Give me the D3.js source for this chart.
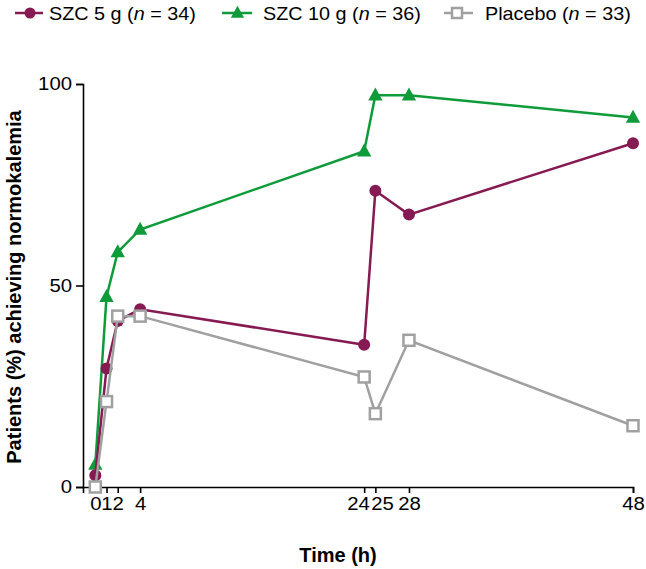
<!DOCTYPE html>
<html>
<head>
<meta charset="utf-8">
<script src="https://cdn.jsdelivr.net/npm/d3@7"></script>
<style>
body { margin: 0; background: #fff; }
text { font-family: "Liberation Sans", Arial, sans-serif; }
</style>
</head>
<body>
<script>
var hours = [0, 1, 2, 4, 24, 25, 28, 48];
var szc5 = [2.9, 29.4, 41.2, 44.1, 35.3, 73.5, 67.6, 85.3];
var szc10 = [5.6, 47.2, 58.3, 63.9, 83.3, 97.2, 97.2, 91.7];
var placebo = [0, 21.2, 42.4, 42.4, 27.3, 18.2, 36.4, 15.2];
var yTicks = [0, 50, 100];

var width = 646, height = 569;
var stretch = "scale(1.1,1)";

var svg = d3.select("body").append("svg")
    .attr("width", width)
    .attr("height", height);

var x = d3.scaleLinear().domain([-1.1, 48]).range([83, 633]);
var y = d3.scaleLinear().domain([0, 100]).range([487, 84]);

var xAxis = d3.axisBottom(x).tickValues(hours).tickSizeOuter(0).tickSize(6).tickPadding(4);
var yAxis = d3.axisLeft(y).tickValues(yTicks).tickSizeOuter(0).tickSize(7).tickPadding(3);

var gx = svg.append("g").attr("transform", "translate(0,487)").call(xAxis);
var gy = svg.append("g").attr("transform", "translate(83,0)").call(yAxis);

[gx, gy].forEach(function (g) {
    g.select(".domain").attr("stroke", "#000").attr("stroke-width", 1.6);
    g.selectAll(".tick line").attr("stroke", "#000").attr("stroke-width", 1.6);
    g.selectAll(".tick text").attr("fill", "#000").attr("font-size", 18.5)
        .attr("font-family", "'Liberation Sans', Arial, sans-serif")
        .attr("transform", stretch);
});

// the 24 and 25 labels are pushed apart like in the original
gx.selectAll(".tick text")
    .attr("x", function (d) { return d === 24 ? -5.5 : d === 25 ? 6 : 0; });

svg.append("text")
    .attr("x", 338).attr("y", 562)
    .attr("text-anchor", "middle")
    .attr("font-size", 20).attr("font-weight", "bold")
    .text("Time (h)");

svg.append("text")
    .attr("transform", "translate(21,287) rotate(-90)")
    .attr("text-anchor", "middle")
    .attr("font-size", 20).attr("font-weight", "bold")
    .text("Patients (%) achieving normokalemia");

var line = d3.line()
    .x(function (d, i) { return x(hours[i]); })
    .y(function (d) { return y(d); });

var purple = "#861a52", green = "#109b3a", grey = "#a0a0a0";

function triangle(g, cx, cy, s) {
    g.append("path")
        .attr("d", "M" + cx + "," + (cy - s * 0.6) + "L" + (cx + s * 0.55) + "," + (cy + s * 0.4) + "L" + (cx - s * 0.55) + "," + (cy + s * 0.4) + "Z")
        .attr("fill", green);
}

// green
svg.append("path").datum(szc10).attr("d", line)
    .attr("fill", "none").attr("stroke", green).attr("stroke-width", 2.5);
var gG = svg.append("g");
szc10.forEach(function (d, i) { triangle(gG, x(hours[i]), y(d), 13); });

// purple
svg.append("path").datum(szc5).attr("d", line)
    .attr("fill", "none").attr("stroke", purple).attr("stroke-width", 2.5);
svg.append("g").selectAll("circle").data(szc5).join("circle")
    .attr("cx", function (d, i) { return x(hours[i]); })
    .attr("cy", function (d) { return y(d); })
    .attr("r", 6)
    .attr("fill", purple);

// placebo
svg.append("path").datum(placebo).attr("d", line)
    .attr("fill", "none").attr("stroke", grey).attr("stroke-width", 2.5);
svg.append("g").selectAll("rect").data(placebo).join("rect")
    .attr("x", function (d, i) { return x(hours[i]) - 5.5; })
    .attr("y", function (d) { return y(d) - 5.5; })
    .attr("width", 11).attr("height", 11)
    .attr("fill", "#fff").attr("stroke", grey).attr("stroke-width", 2.5);

// legend
var leg = svg.append("g").attr("font-size", 18);
function legText(xp, label, n) {
    var t = leg.append("text").attr("transform", "translate(" + xp + ",19.5) " + stretch);
    t.append("tspan").text(label + " (");
    t.append("tspan").attr("font-style", "italic").text("n");
    t.append("tspan").text(" = " + n + ")");
}
leg.append("line").attr("x1", 15).attr("x2", 43).attr("y1", 13).attr("y2", 13)
    .attr("stroke", purple).attr("stroke-width", 2.5);
leg.append("circle").attr("cx", 30).attr("cy", 13).attr("r", 5.5).attr("fill", purple);
legText(49, "SZC 5 g", 34);

leg.append("line").attr("x1", 222).attr("x2", 252).attr("y1", 13).attr("y2", 13)
    .attr("stroke", green).attr("stroke-width", 2.5);
triangle(leg, 237.5, 13, 12);
legText(263, "SZC 10 g", 36);

leg.append("line").attr("x1", 444).attr("x2", 473).attr("y1", 13).attr("y2", 13)
    .attr("stroke", grey).attr("stroke-width", 2.5);
leg.append("rect").attr("x", 452).attr("y", 8).attr("width", 10).attr("height", 10)
    .attr("fill", "#fff").attr("stroke", grey).attr("stroke-width", 2.5);
legText(485, "Placebo", 33);
</script>
</body>
</html>
